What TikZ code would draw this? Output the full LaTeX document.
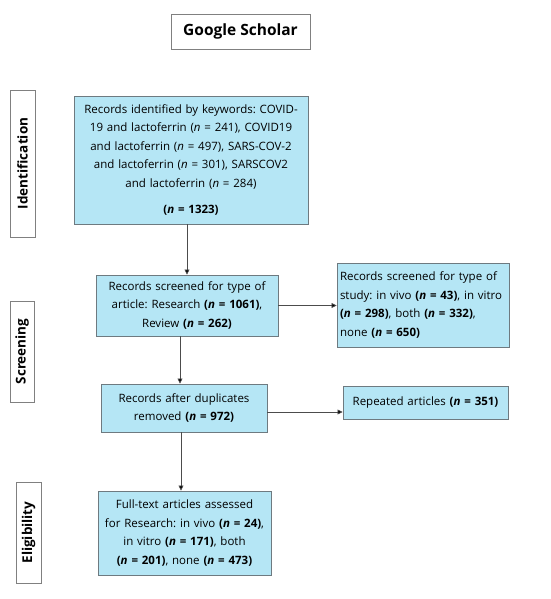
\documentclass[tikz,border=0pt]{standalone}
\usepackage{fontspec}
\setmainfont{Open Sans}
\usetikzlibrary{arrows.meta}
\definecolor{boxfill}{HTML}{B5E6F5}
\definecolor{boxline}{HTML}{6E7A80}
\definecolor{lblline}{HTML}{808080}
\newcommand{\bn}[1]{\textbf{(\textit{n} = #1)}}
\newcommand{\nn}[1]{(\textit{n} = #1)}
\tikzset{
  stagebox/.style={draw=boxline, line width=0.9pt, fill=boxfill, inner sep=2pt,
    font=\fontsize{11.5}{18.5}\selectfont},
  lblbox/.style={draw=lblline, line width=0.9pt, fill=white, rotate=90, inner sep=0pt,
    font=\fontsize{13.5}{15}\selectfont\bfseries},
  arr/.style={draw=black!70, line width=0.7pt, -{Triangle[length=5pt,width=5pt,fill=black]}}
}
\begin{document}
\frenchspacing
\begin{tikzpicture}[x=1pt,y=-1pt]
\useasboundingbox (0,0) rectangle (550,599);
\node[draw=lblline, line width=0.9pt, minimum width=139pt, minimum height=35pt,
  font=\fontsize{15.5}{18}\selectfont\bfseries] (gs) at (240.5,31.5) {Google Scholar};
\node[lblbox, minimum width=147pt, minimum height=25pt] (lid) at (22.5,163.5) {Identification};
\node[lblbox, minimum width=101pt, minimum height=24pt] (lscr) at (22,351.5) {Screening};
\node[lblbox, minimum width=101pt, minimum height=25pt] (lel) at (28.5,532.5) {Eligibility};

\node[stagebox, minimum width=234pt, minimum height=128pt, text width=230pt, align=center] (b1) at (191,160)
 {Records identified by keywords: COVID-\\19 and lactoferrin \nn{241}, COVID19\\and lactoferrin \nn{497}, SARS-COV-2\\and lactoferrin \nn{301}, SARSCOV2\\and lactoferrin \nn{284}\\[8pt]\bn{1323}};
\node[stagebox, minimum width=182pt, minimum height=61pt, text width=178pt, align=center] (b2) at (187,305.5)
 {Records screened for type of\\article: Research \bn{1061},\\Review \bn{262}};
\node[stagebox, minimum width=172pt, minimum height=84pt, text width=166pt, align=left] (b3) at (423,305)
 {Records screened for type of\\study: in vivo \bn{43}, in vitro\\\bn{298}, both \bn{332},\\none \bn{650}};
\node[stagebox, minimum width=166pt, minimum height=48pt, text width=162pt, align=center] (b4) at (184,408)
 {Records after duplicates\\removed \bn{972}};
\node[stagebox, minimum width=165pt, minimum height=33pt, text width=161pt, align=center] (b5) at (425.5,402.5)
 {Repeated articles \bn{351}};
\node[stagebox, minimum width=173pt, minimum height=84pt, text width=169pt, align=center] (b6) at (184.5,533)
 {Full-text articles assessed\\for Research: in vivo \bn{24},\\in vitro \bn{171}, both\\\bn{201}, none \bn{473}};

\draw[arr] (b1.south -| b2.north) -- (b2.north);
\draw[arr] (b2.east) -- (b2.east -| b3.west);
\draw[arr] ([xshift=-7pt]b2.south) -- ([xshift=-7pt]b2.south |- b4.north);
\draw[arr] ([yshift=-4pt]b4.east) -- ([yshift=-4pt]b4.east -| b5.west);
\draw[arr] ([xshift=-3pt]b4.south) -- ([xshift=-3pt]b4.south |- b6.north);
\end{tikzpicture}
\end{document}
